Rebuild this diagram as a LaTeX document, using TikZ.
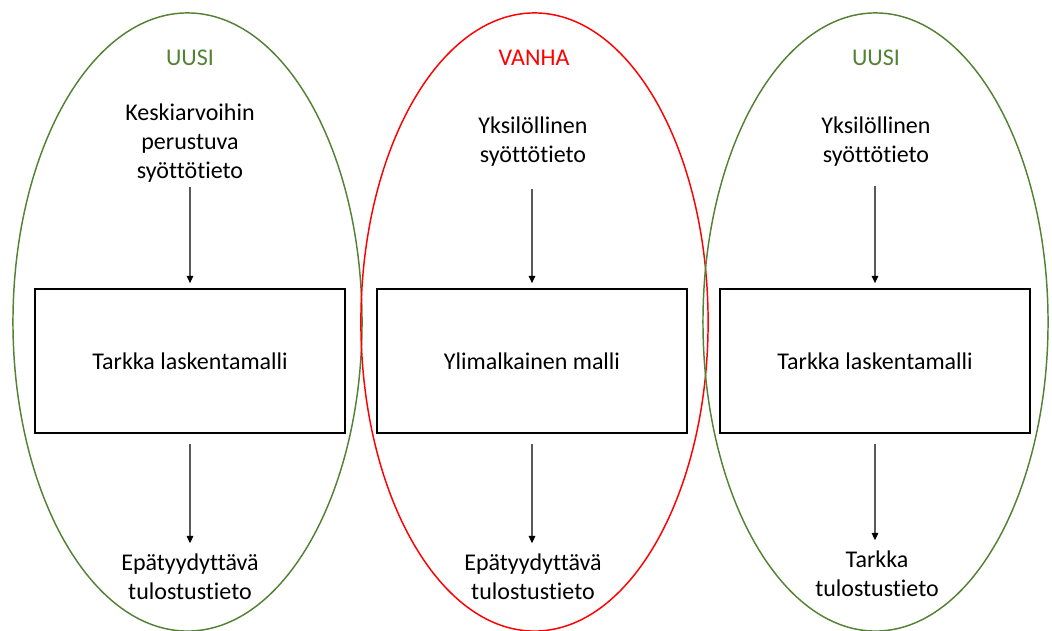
\documentclass[tikz,border=0pt]{standalone}
\usepackage{fontspec}
\setmainfont{Carlito}[Ligatures={NoCommon,NoContextual}]
\usetikzlibrary{arrows.meta}
\definecolor{newgreen}{HTML}{548235}
\definecolor{oldred}{HTML}{FF0000}
\definecolor{shaft}{HTML}{595959}
\begin{document}
\begin{tikzpicture}[x=0.75pt,y=-0.75pt,
  oval/.style={line width=1.1pt},
  titletext/.style={font=\fontsize{18}{21.6}\selectfont, inner sep=0pt},
  txt/.style={font=\fontsize{18}{21.6}\selectfont, align=center, inner sep=0pt},
  box/.style={draw=black, line width=1.4pt, minimum width=233pt, minimum height=108pt,
    font=\fontsize{18}{21.6}\selectfont, inner sep=0pt},
  arr/.style={draw=shaft, line width=0.8pt, -{Triangle[width=5pt,length=5.5pt,color=black]}}]
\useasboundingbox (0,0) rectangle (1052,631);
% ovals
\draw[oval, newgreen] (187.5,322) ellipse [x radius=130.9pt, y radius=231.8pt];
\draw[oval, oldred] (534.5,322) ellipse [x radius=130.2pt, y radius=231.8pt];
\draw[oval, newgreen] (875.5,322) ellipse [x radius=129.4pt, y radius=231.8pt];
% left column
\node[titletext, text=newgreen] (t1) at (190,58) {UUSI};
\node[txt] (in1) at (190,143) {Keskiarvoihin\\perustuva\\syöttötieto};
\node[box] (b1) at (190,361) {Tarkka laskentamalli};
\node[txt] (out1) at (190,577) {Epätyydyttävä\\tulostustieto};
% middle column
\node[titletext, text=oldred] (t2) at (534,58) {VANHA};
\node[txt] (in2) at (533,142) {Yksilöllinen\\syöttötieto};
\node[box] (b2) at (532,361) {Ylimalkainen malli};
\node[txt] (out2) at (533,577) {Epätyydyttävä\\tulostustieto};
% right column
\node[titletext, text=newgreen] (t3) at (876,58) {UUSI};
\node[txt] (in3) at (876,142) {Yksilöllinen\\syöttötieto};
\node[box] (b3) at (875,361) {Tarkka laskentamalli};
\node[txt] (out3) at (877,574) {Tarkka\\tulostustieto};
% arrows
\draw[arr, shorten <=3.4pt, shorten >=3.7pt] (b1.north |- in1.south) -- (b1.north);
\draw[arr, shorten <=16.5pt, shorten >=3.7pt] (b2.north |- in2.south) -- (b2.north);
\draw[arr, shorten <=14.6pt, shorten >=3.7pt] (b3.north |- in3.south) -- (b3.north);
\draw[arr, shorten <=7.5pt, shorten >=8pt] (b1.south) -- (b1.south |- out1.north);
\draw[arr, shorten <=7.5pt, shorten >=8pt] (b2.south) -- (b2.south |- out2.north);
\draw[arr, shorten <=7.5pt, shorten >=8pt] (b3.south) -- (b3.south |- out3.north);
\end{tikzpicture}
\end{document}
